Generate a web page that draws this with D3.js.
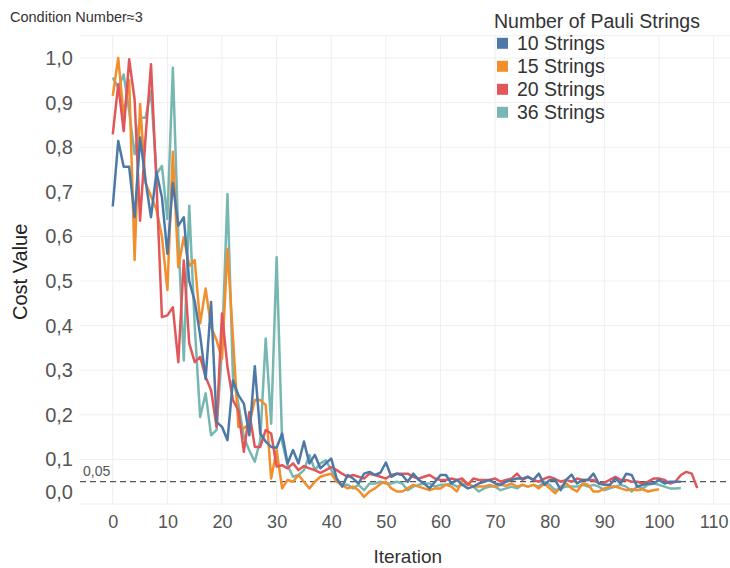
<!DOCTYPE html>
<html>
<head>
<meta charset="utf-8">
<script src="https://cdn.jsdelivr.net/npm/d3@7"></script>
<style>
  html, body { margin: 0; padding: 0; background: #ffffff; }
  svg { display: block; font-family: "Liberation Sans", Arial, Helvetica, sans-serif; }
</style>
</head>
<body>
<svg id="chart" width="730" height="568"></svg>
<script>
// Cost value per iteration for each number of Pauli strings
const seriesNames = ["10 Strings", "15 Strings", "20 Strings", "36 Strings"];
const seriesColors = ["#4e79a7", "#f28e2b", "#e15759", "#76b7b2"];

const cost10 = [
  0.667, 0.814, 0.756, 0.756, 0.643, 0.822, 0.725, 0.643, 0.744, 0.688,
  0.561, 0.720, 0.624, 0.643, 0.500, 0.455, 0.378, 0.280, 0.453, 0.184,
  0.173, 0.143, 0.277, 0.244, 0.225, 0.154, 0.309, 0.158, 0.140, 0.128,
  0.126, 0.158, 0.091, 0.121, 0.091, 0.140, 0.091, 0.110, 0.080, 0.091,
  0.102, 0.057, 0.039, 0.065, 0.057, 0.046, 0.068, 0.072, 0.065, 0.070,
  0.093, 0.061, 0.068, 0.065, 0.050, 0.068, 0.054, 0.046, 0.035, 0.050,
  0.065, 0.065, 0.046, 0.054, 0.043, 0.035, 0.039, 0.046, 0.050, 0.054,
  0.046, 0.043, 0.050, 0.054, 0.057, 0.057, 0.061, 0.054, 0.068, 0.043,
  0.054, 0.054, 0.031, 0.054, 0.066, 0.046, 0.054, 0.054, 0.068, 0.046,
  0.043, 0.043, 0.057, 0.046, 0.068, 0.065, 0.039, 0.043, 0.046, 0.046,
  0.054, 0.046, 0.050, 0.050, 0.050
];
const cost15 = [
  0.915, 1.000, 0.870, 0.950, 0.547, 0.897, 0.720, 0.690, 0.660, 0.600,
  0.480, 0.790, 0.531, 0.598, 0.534, 0.547, 0.405, 0.483, 0.397, 0.367,
  0.326, 0.572, 0.374, 0.173, 0.170, 0.180, 0.233, 0.233, 0.222, 0.057,
  0.121, 0.035, 0.054, 0.050, 0.065, 0.050, 0.035, 0.050, 0.061, 0.065,
  0.068, 0.050, 0.042, 0.035, 0.039, 0.031, 0.016, 0.028, 0.035, 0.045,
  0.050, 0.035, 0.028, 0.028, 0.035, 0.043, 0.039, 0.035, 0.031, 0.035,
  0.035, 0.043, 0.039, 0.028, 0.054, 0.046, 0.039, 0.039, 0.039, 0.043,
  0.039, 0.043, 0.041, 0.046, 0.039, 0.043, 0.039, 0.043, 0.035, 0.046,
  0.035, 0.024, 0.039, 0.046, 0.035, 0.028, 0.046, 0.043, 0.028, 0.028,
  0.035, 0.039, 0.039, 0.035, 0.031, 0.033, 0.031, 0.033, 0.028, 0.031,
  0.033
];
const cost20 = [
  0.829, 0.941, 0.836, 0.997, 0.907, 0.635, 0.822, 0.986, 0.720, 0.419,
  0.423, 0.441, 0.318, 0.546, 0.360, 0.318, 0.330, 0.285, 0.255, 0.173,
  0.427, 0.307, 0.233, 0.210, 0.117, 0.206, 0.128, 0.128, 0.166, 0.158,
  0.084, 0.087, 0.080, 0.091, 0.076, 0.085, 0.080, 0.076, 0.070, 0.076,
  0.083, 0.076, 0.068, 0.061, 0.065, 0.061, 0.057, 0.068, 0.065, 0.061,
  0.057, 0.065, 0.068, 0.068, 0.068, 0.061, 0.057, 0.061, 0.065, 0.057,
  0.054, 0.054, 0.057, 0.054, 0.057, 0.043, 0.057, 0.054, 0.054, 0.054,
  0.057, 0.050, 0.054, 0.057, 0.068, 0.054, 0.061, 0.054, 0.050, 0.057,
  0.061, 0.056, 0.050, 0.054, 0.050, 0.057, 0.054, 0.054, 0.054, 0.046,
  0.048, 0.054, 0.061, 0.054, 0.054, 0.050, 0.050, 0.046, 0.050, 0.057,
  0.057, 0.054, 0.046, 0.050, 0.065, 0.072, 0.068, 0.036
];
const cost36 = [
  0.956, 0.934, 0.963, 0.881, 0.784, 0.866, 0.866, 0.926, 0.740, 0.758,
  0.639, 0.978, 0.600, 0.322, 0.669, 0.400, 0.195, 0.248, 0.154, 0.166,
  0.350, 0.695, 0.285, 0.225, 0.150, 0.120, 0.095, 0.143, 0.371, 0.180,
  0.553, 0.140, 0.087, 0.061, 0.065, 0.076, 0.110, 0.076, 0.091, 0.098,
  0.076, 0.054, 0.043, 0.043, 0.035, 0.043, 0.031, 0.046, 0.046, 0.050,
  0.046, 0.046, 0.050, 0.046, 0.031, 0.039, 0.043, 0.046, 0.046, 0.039,
  0.043, 0.043, 0.046, 0.039, 0.043, 0.046, 0.039, 0.028, 0.035, 0.039,
  0.039, 0.031, 0.035, 0.039, 0.035, 0.043, 0.039, 0.043, 0.039, 0.050,
  0.043, 0.031, 0.035, 0.039, 0.039, 0.039, 0.043, 0.039, 0.043, 0.039,
  0.031, 0.035, 0.039, 0.043, 0.039, 0.028, 0.039, 0.035, 0.043, 0.046,
  0.043, 0.039, 0.035, 0.035, 0.036
];

const xTicks = [0, 10, 20, 30, 40, 50, 60, 70, 80, 90, 100, 110];
const yTicks = [0, 0.1, 0.2, 0.3, 0.4, 0.5, 0.6, 0.7, 0.8, 0.9, 1.0];
const threshold = 0.05;

const allSeries = [cost10, cost15, cost20, cost36];

const svg = d3.select("#chart");
const plotLeft = 80, plotRight = 730, plotTop = 35.7, plotBottom = 504;

const x = d3.scaleLinear().domain([-6, 113]).range([plotLeft, plotRight]);
const y = d3.scaleLinear().domain([0, 1.05]).range([plotBottom, plotTop]);

const fmt1 = v => d3.format(".1f")(v).replace(".", ",");
const fmt2 = v => d3.format(".2f")(v).replace(".", ",");

// grid
const grid = svg.append("g").attr("stroke", "#efefef").attr("stroke-width", 1);
grid.selectAll("line.v").data(xTicks).join("line")
  .attr("class", "v")
  .attr("x1", d => x(d)).attr("x2", d => x(d))
  .attr("y1", plotTop).attr("y2", plotBottom);
grid.selectAll("line.h").data(yTicks).join("line")
  .attr("class", "h")
  .attr("x1", plotLeft).attr("x2", plotRight)
  .attr("y1", d => y(d)).attr("y2", d => y(d));
grid.append("line").attr("x1", plotLeft).attr("x2", plotRight).attr("y1", plotTop).attr("y2", plotTop);

// axes (labels only)
const xAxis = d3.axisBottom(x).tickValues(xTicks).tickSize(0).tickPadding(11);
const gx = svg.append("g").attr("transform", `translate(0,${plotBottom})`).call(xAxis);
gx.select(".domain").remove();
gx.selectAll("text").attr("font-size", 18).attr("fill", "#555").attr("font-family", "Liberation Sans, Arial, sans-serif");

const yAxis = d3.axisLeft(y).tickValues(yTicks).tickSize(0).tickPadding(7).tickFormat(fmt1);
const gy = svg.append("g").attr("transform", `translate(${plotLeft},0)`).call(yAxis);
gy.select(".domain").remove();
gy.selectAll("text").attr("font-size", 20).attr("fill", "#555").attr("font-family", "Liberation Sans, Arial, sans-serif");
gy.selectAll(".tick").filter(d => d === 0).select("text").attr("dy", "-0.28em");

// threshold line
svg.append("line")
  .attr("x1", plotLeft).attr("x2", plotRight)
  .attr("y1", y(threshold)).attr("y2", y(threshold))
  .attr("stroke", "#555").attr("stroke-width", 1.3).attr("stroke-dasharray", "6,4");
svg.append("text")
  .attr("x", plotLeft + 3).attr("y", y(threshold) - 6)
  .attr("font-size", 14).attr("fill", "#555")
  .text(fmt2(threshold));

// series lines
const line = d3.line().x((d, i) => x(i)).y(d => y(d));
const order = [3, 1, 2, 0];
svg.append("g").selectAll("path").data(order).join("path")
  .attr("d", k => line(allSeries[k]))
  .attr("fill", "none")
  .attr("stroke", k => seriesColors[k])
  .attr("stroke-width", 2.5)
  .attr("stroke-linejoin", "round");

// titles
svg.append("text").attr("x", 10).attr("y", 22)
  .attr("font-size", 14.5).attr("fill", "#333")
  .text("Condition Number\u22483");

svg.append("text")
  .attr("transform", `translate(27,${(plotTop + plotBottom) / 2 + 2}) rotate(-90)`)
  .attr("text-anchor", "middle")
  .attr("font-size", 20).attr("fill", "#222")
  .text("Cost Value");

svg.append("text")
  .attr("x", x(54)).attr("y", 563)
  .attr("text-anchor", "middle")
  .attr("font-size", 19).attr("fill", "#333")
  .text("Iteration");

// legend
const lg = svg.append("g");
lg.append("text").attr("x", 494).attr("y", 28)
  .attr("font-size", 19.5).attr("fill", "#333")
  .text("Number of Pauli Strings");
const items = lg.selectAll("g.item").data(seriesNames).join("g")
  .attr("class", "item")
  .attr("transform", (d, i) => `translate(497,${43.3 + i * 23})`);
items.append("rect").attr("x", 0).attr("y", -5.5).attr("width", 11).attr("height", 11)
  .attr("fill", (d, i) => seriesColors[i]);
items.append("text").attr("x", 20).attr("y", 0).attr("dy", "0.35em")
  .attr("font-size", 19.5).attr("fill", "#333")
  .text(d => d);
</script>
</body>
</html>
